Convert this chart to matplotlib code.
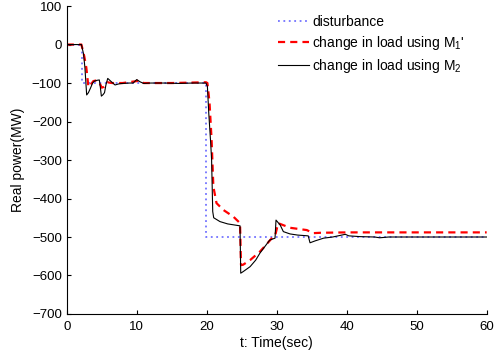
import matplotlib
matplotlib.use("Agg")
import matplotlib.pyplot as plt

plt.rcParams['font.family'] = ['Liberation Sans', 'DejaVu Sans']
plt.rcParams['mathtext.fontset'] = 'custom'
plt.rcParams['mathtext.rm'] = 'Liberation Sans'
plt.rcParams['mathtext.it'] = 'Liberation Sans'

# disturbance
t_dist = [0, 2.2, 2.2, 19.9, 19.9, 60]
p_dist = [0, 0, -100, -100, -500, -500]

# change in load using M1'
t_m1 = [0, 2.1, 2.5, 2.8, 3.1, 3.4, 3.8, 4.3, 4.7, 5.0, 5.3, 5.8, 6.5, 8, 10, 10.3, 11, 15, 19.9,
        20.1, 20.4, 20.7, 20.95, 21.4, 22.4, 23.8, 24.76, 24.9, 25.2, 26.2, 27.6, 28.5, 29.5, 29.8,
        30.2, 31.9, 34.3, 35.2, 36.3, 40, 60]
p_m1 = [0, 0, -30, -60, -110, -105, -95, -93, -100, -112, -110, -98, -100, -100, -95, -93, -100, -100, -98,
        -100, -150, -248, -369, -412, -430, -447, -464, -573, -572, -560, -538, -520, -499, -495,
        -464, -476, -482, -490, -489, -488, -488]

# change in load using M2
t_m2 = [0, 2.1, 2.4, 2.6, 2.85, 3.1, 3.4, 3.7, 3.95, 4.3, 4.66, 4.8, 4.95, 5.2, 5.4, 5.6, 5.86, 6.1, 6.4,
        6.9, 7.5, 8, 9, 9.5, 10, 10.5, 11, 12, 14, 16, 18, 19.9, 20.1, 20.3, 20.57, 20.7, 20.86, 21.0,
        21.9, 23, 24.76, 24.86, 25.2, 26.2, 27, 27.6, 28.3, 29.0, 29.76, 29.9, 30.5, 30.95, 31.9, 33,
        34.5, 34.76, 35.5, 36.7, 38, 39.8, 40.3, 41.9, 44, 44.7, 46, 50, 55, 60]
p_m2 = [0, 0, -24, -60, -131, -125, -113, -100, -95, -93, -92, -110, -134, -130, -125, -105, -88, -92, -97,
        -105, -102, -101, -100, -100, -91, -97, -101, -100, -100, -101, -100, -100, -109, -180, -256, -300,
        -434, -450, -460, -466, -471, -594, -590, -577, -560, -542, -525, -508, -503, -456, -469, -486,
        -492, -495, -497, -515, -510, -503, -500, -493, -497, -499, -500, -502, -500, -500, -500, -500]

x_ticks = [0, 10, 20, 30, 40, 50, 60]
y_ticks = [100, 0, -100, -200, -300, -400, -500, -600, -700]

fig = plt.figure(figsize=(5.02, 3.56), dpi=100)
ax = fig.add_axes([0.1329, 0.118, 0.8366, 0.865])

ax.plot(t_dist, p_dist, color=(0.45, 0.45, 1.0), linestyle=(0, (1, 2)), linewidth=1.3, label='disturbance')
ax.plot(t_m1, p_m1, color='red', linestyle=(0, (3.2, 2.3)), linewidth=1.6, label="change in load using M$_1$'")
ax.plot(t_m2, p_m2, color='black', linewidth=0.8, label='change in load using M$_2$')

ax.set_xlim(0, 60)
ax.set_ylim(-700, 100)
ax.set_xticks(x_ticks)
ax.set_yticks(y_ticks)
ax.spines['top'].set_visible(False)
ax.spines['right'].set_visible(False)
ax.tick_params(direction='in', labelsize=9.5, length=3, width=0.8)
ax.tick_params(axis='x', pad=5)
ax.set_xlabel('t: Time(sec)', fontsize=10, labelpad=2)
ax.set_ylabel('Real power(MW)', fontsize=10, labelpad=5)

leg = ax.legend(loc='upper left', bbox_to_anchor=(0.503, 0.97), frameon=False, fontsize=10,
                handlelength=2.2, handletextpad=0.25, labelspacing=0.35, borderaxespad=0, borderpad=0)

fig.savefig('out.png', dpi=100)
